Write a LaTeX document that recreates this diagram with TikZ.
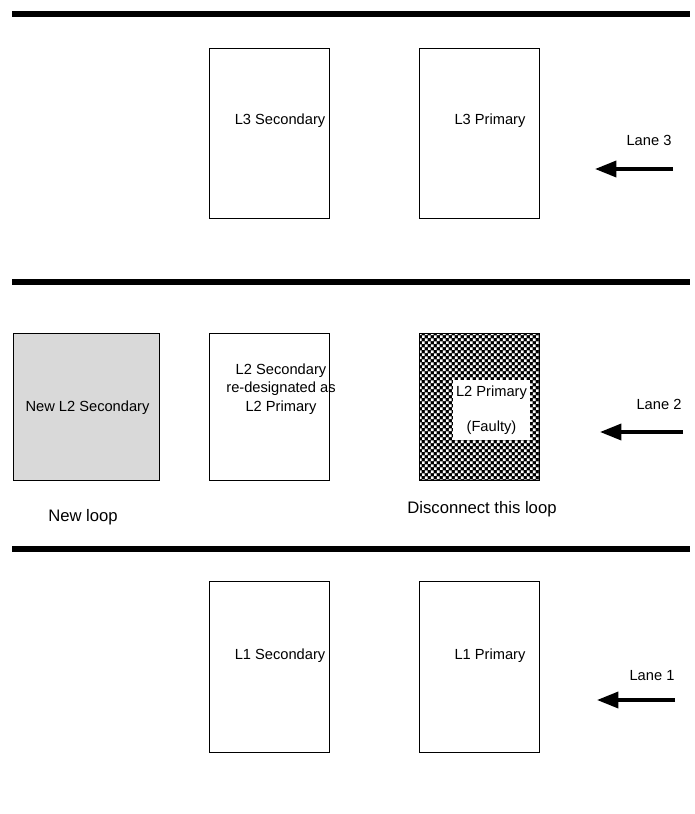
\documentclass[tikz,border=0pt]{standalone}
\usepackage{fontspec}
\setmainfont{Liberation Sans}
\usetikzlibrary{arrows.meta,positioning,patterns}
\pgfdeclarepatternformonly{faultgrid}{\pgfqpoint{0pt}{0pt}}{\pgfqpoint{4.8pt}{4.8pt}}{\pgfqpoint{4.8pt}{4.8pt}}{%
  \pgfpathrectangle{\pgfqpoint{0pt}{0pt}}{\pgfqpoint{2.2pt}{2.2pt}}%
  \pgfpathrectangle{\pgfqpoint{2.4pt}{2.4pt}}{\pgfqpoint{2.2pt}{2.2pt}}%
  \pgfusepath{fill}}
\tikzset{
  loopbox/.style={draw=black,line width=0.6pt,fill=white,minimum width=90pt,
    minimum height=128pt,inner sep=0pt},
  newbox/.style={loopbox,fill=black!15,minimum width=109pt,minimum height=110pt},
  faultbox/.style={loopbox,minimum height=110pt,
    preaction={fill=black},pattern=faultgrid,pattern color=white},
  txt/.style={font=\fontsize{11}{14}\selectfont,align=center,inner sep=0pt},
  inner/.style={txt,fill=white,minimum width=58pt,minimum height=45pt},
  lane/.style={line width=3.8pt},
  dir/.style={-{Triangle[length=16pt,width=12pt]},line width=2.6pt},
  lbl/.style={font=\fontsize{11}{13}\selectfont},
  note/.style={font=\fontsize{12.5}{15}\selectfont},
}
\begin{document}
\begin{tikzpicture}[x=0.75pt,y=-0.75pt]
  \useasboundingbox (0,0) rectangle (695,814);
  % lane dividers
  \draw[lane] (12,14) -- (690,14);
  \draw[lane] (12,282) -- (690,282);
  \draw[lane] (12,549) -- (690,549);

  % lane 3
  \node[loopbox] (l3s) at (269.5,133.5) {};
  \node[loopbox,right=67pt of l3s] (l3p) {};
  \node[txt] (t3s) at (280,121) {L3 Secondary};
  \node[txt] (t3p) at (490,121) {L3 Primary};
  \node[lbl] (lane3) at (649,140) {Lane 3};
  \coordinate (a3) at (673,169);
  \coordinate (b3) at (595,169);
  \draw[dir] (a3) -- (b3);

  % lane 2
  \node[newbox] (l2n) at (86.5,407) {};
  \node[loopbox,minimum height=110pt] (l2s) at (269.5,407) {};
  \node[faultbox,right=67pt of l2s] (l2p) {};
  \node[txt] (t2n) at (87.5,408) {New L2 Secondary};
  \node[txt] (t2s) at (281,389) {L2 Secondary\\re-designated as\\L2 Primary};
  \node[inner] (l2f) at (491.5,410) {L2 Primary\\[12pt](Faulty)};
  \node[note] (newl) at (83,517) {New loop};
  \node[note] (disc) at (482,509) {Disconnect this loop};
  \node[lbl] (lane2) at (659,404) {Lane 2};
  \coordinate (a2) at (683,432);
  \coordinate (b2) at (600,432);
  \draw[dir] (a2) -- (b2);

  % lane 1
  \node[loopbox] (l1s) at (269.5,667) {};
  \node[loopbox,right=67pt of l1s] (l1p) {};
  \node[txt] (t1s) at (280,656) {L1 Secondary};
  \node[txt] (t1p) at (490,656) {L1 Primary};
  \node[lbl] (lane1) at (652,676) {Lane 1};
  \coordinate (a1) at (675,700);
  \coordinate (b1) at (597,700);
  \draw[dir] (a1) -- (b1);
\end{tikzpicture}
\end{document}
